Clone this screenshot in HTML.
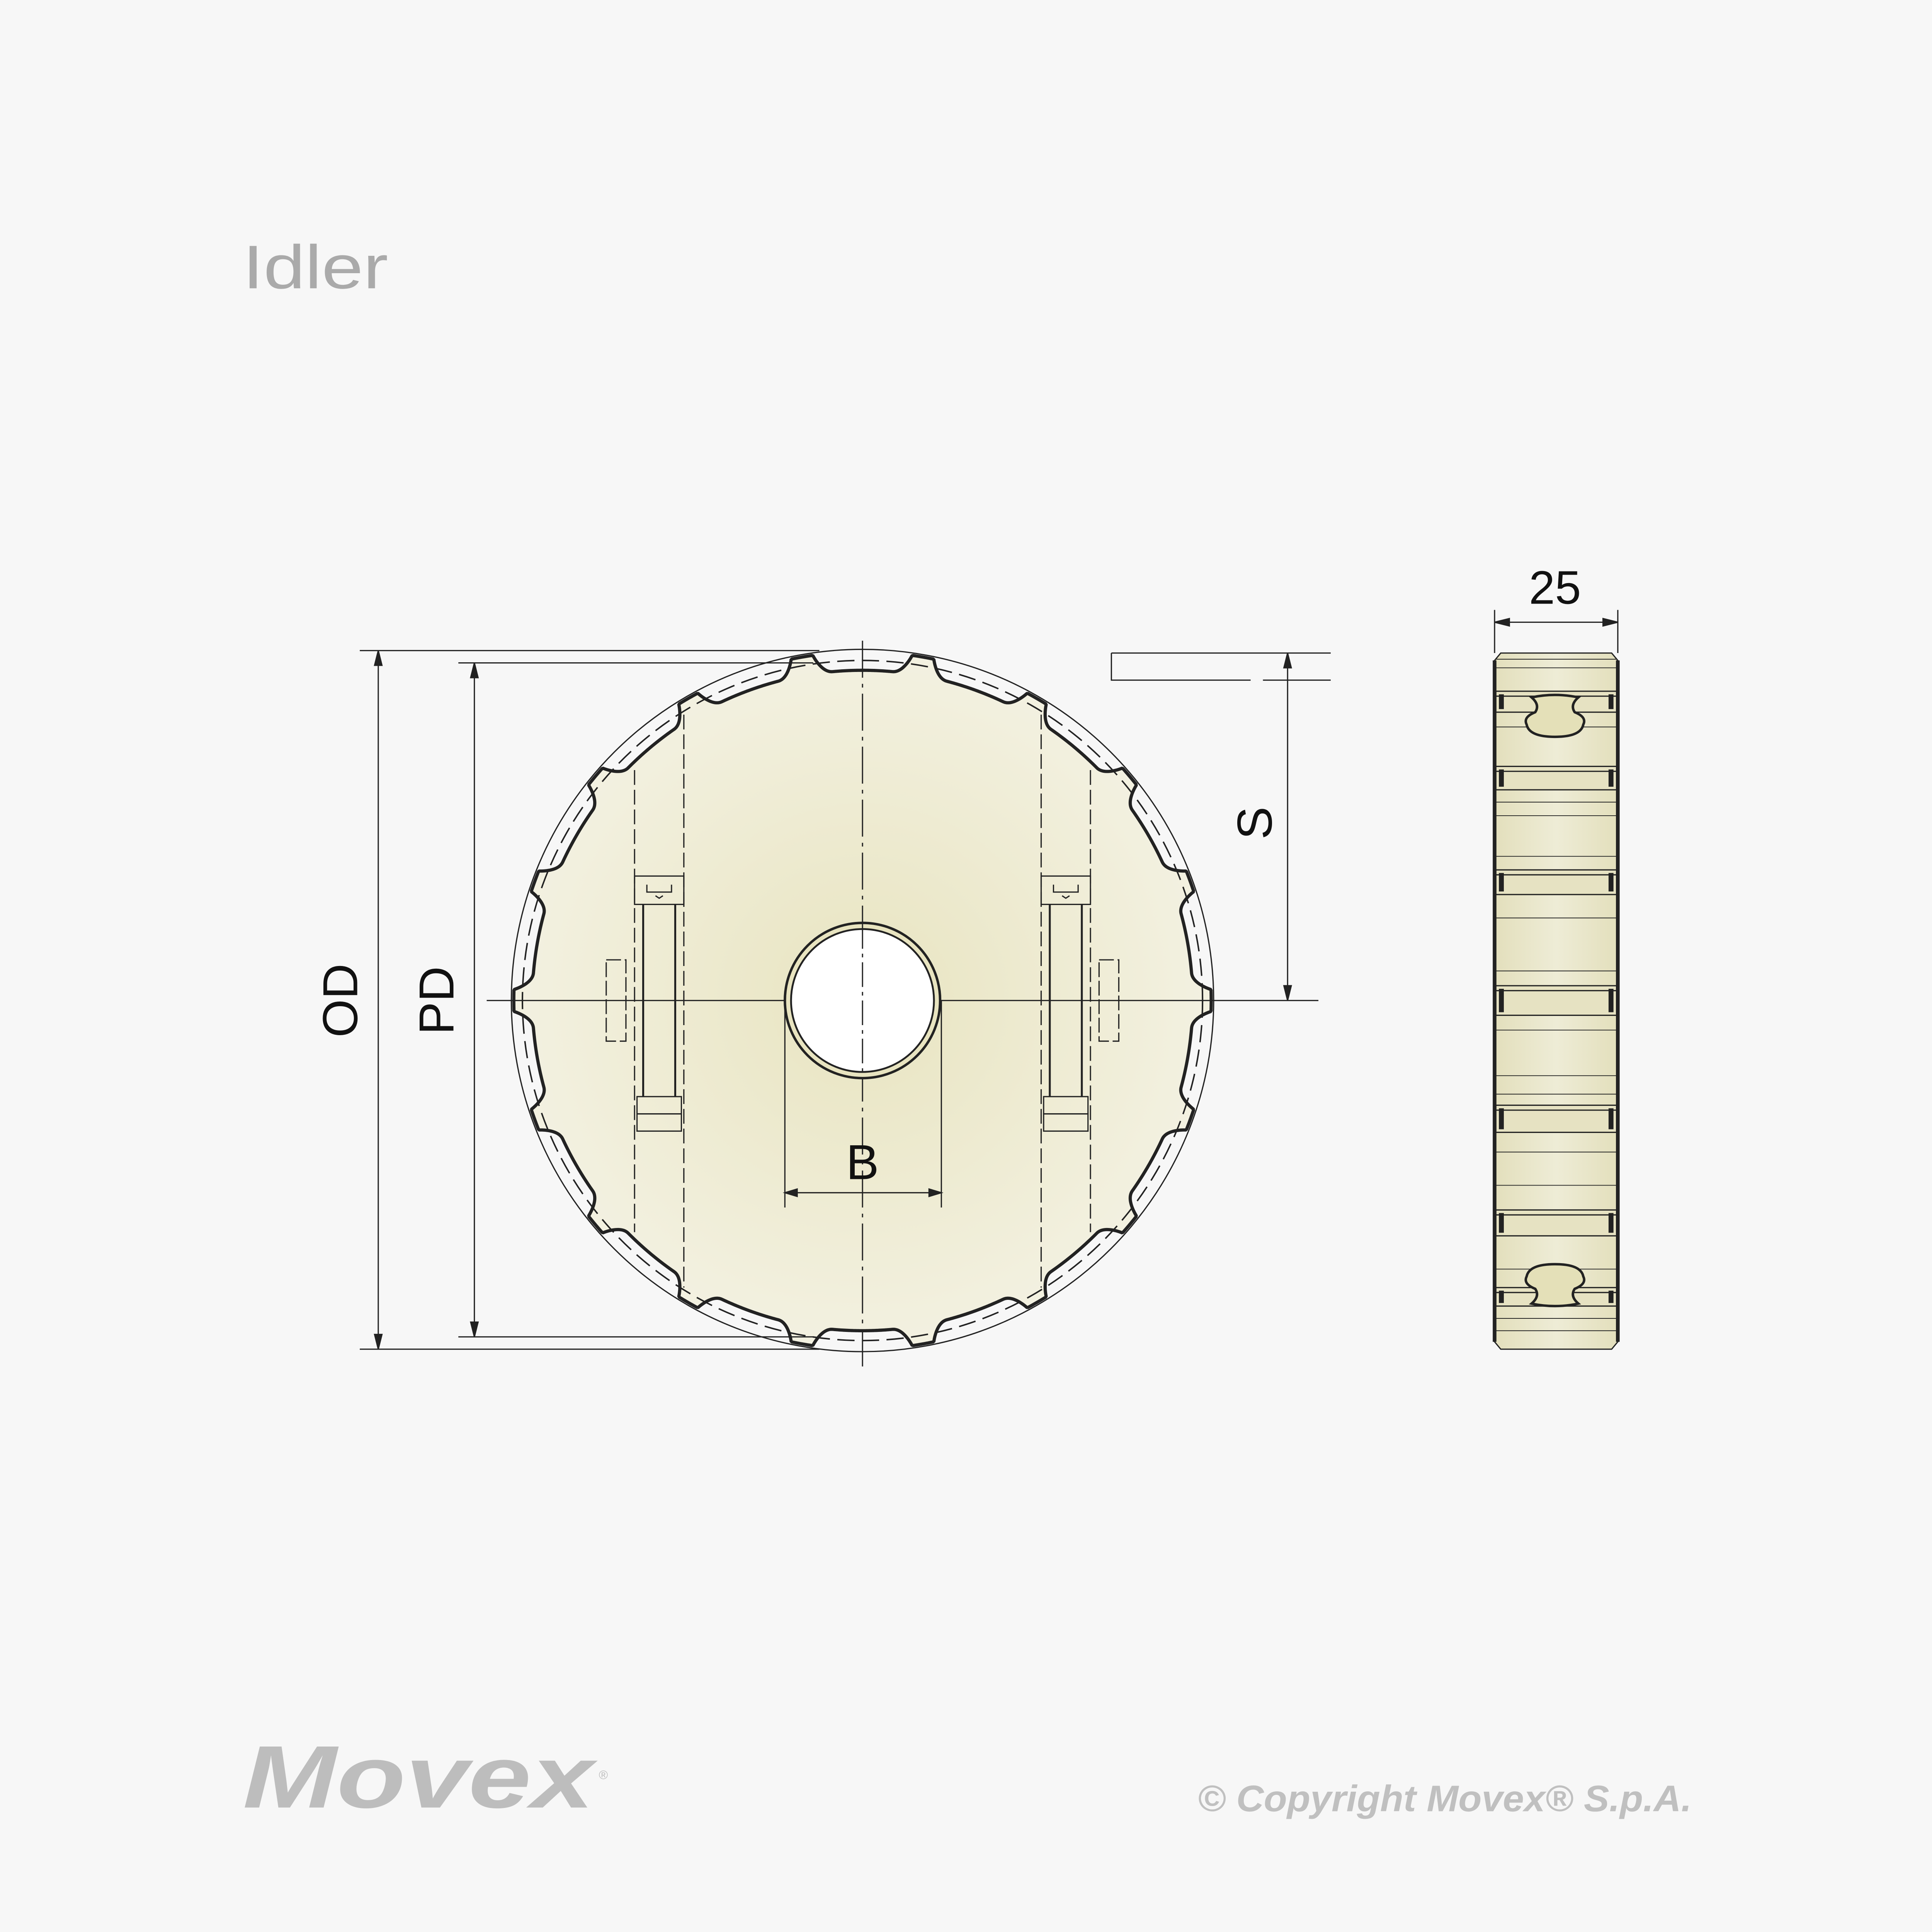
<!DOCTYPE html>
<html><head><meta charset="utf-8"><style>
html,body{margin:0;padding:0;background:#f7f7f7;overflow:hidden;width:100%;height:100%;}
svg{display:block;position:fixed;left:0;top:0;width:100vw;height:100vh;}
text{font-family:"Liberation Sans",sans-serif;}
</style></head><body>
<svg id="s" viewBox="0 0 1568 1568" preserveAspectRatio="none" xmlns="http://www.w3.org/2000/svg">
<defs>
<radialGradient id="g" cx="700" cy="812" r="283" gradientUnits="userSpaceOnUse">
<stop offset="0" stop-color="#e8e4c0"/><stop offset="1" stop-color="#f3f1e1"/></radialGradient>
<linearGradient id="sg" x1="0" y1="0" x2="1" y2="0">
<stop offset="0" stop-color="#e3dfbc"/><stop offset="0.5" stop-color="#eeecd6"/><stop offset="1" stop-color="#e3dfbc"/></linearGradient>
</defs>
<rect width="1568" height="1568" fill="#f7f7f7"/>
<text x="197" y="234" font-size="50" fill="#aaaaaa" textLength="118" lengthAdjust="spacingAndGlyphs">Idler</text>

<g id="wheel"></g>

<g stroke="#222" fill="none" stroke-width="1">
<line x1="395" y1="812" x2="1070" y2="812"/>
<line x1="700" y1="520" x2="700" y2="1110" stroke-dasharray="30,5,3,5"/>
<line x1="515" y1="625" x2="515" y2="1000" stroke-dasharray="12,4"/>
<line x1="555" y1="580" x2="555" y2="1045" stroke-dasharray="12,4"/>
<line x1="845" y1="580" x2="845" y2="1045" stroke-dasharray="12,4"/>
<line x1="885" y1="625" x2="885" y2="1000" stroke-dasharray="12,4"/>
<g id="bolts"></g>
<circle cx="700" cy="812" r="63" fill="#e8e4c0" stroke-width="2"/>
<circle cx="700" cy="812" r="58" fill="#fff" stroke-width="1.5"/>
<line x1="700" y1="750" x2="700" y2="875" stroke-dasharray="20,4,3,4"/>
<line x1="637" y1="812" x2="637" y2="980"/>
<line x1="764" y1="812" x2="764" y2="980"/>
<line x1="640" y1="968" x2="761" y2="968"/>
<path d="M637 968 l10 -3 v6z M764 968 l-10 -3 v6z" fill="#222"/>

<line x1="292" y1="528" x2="665" y2="528"/>
<line x1="292" y1="1095" x2="665" y2="1095"/>
<line x1="307" y1="531" x2="307" y2="1092"/>
<path d="M307 528 l-3 12 h6z M307 1095 l-3 -12 h6z" fill="#222"/>
<line x1="372" y1="538" x2="660" y2="538"/>
<line x1="372" y1="1085" x2="660" y2="1085"/>
<line x1="385" y1="541" x2="385" y2="1082"/>
<path d="M385 538 l-3 12 h6z M385 1085 l-3 -12 h6z" fill="#222"/>
<path d="M902 530 H1080 M902 530 V552 H1015 M1025 552 H1080"/>
<line x1="1045" y1="533" x2="1045" y2="809"/>
<path d="M1045 530 l-3 12 h6z M1045 812 l-3 -12 h6z" fill="#222"/>
<line x1="1213" y1="495" x2="1213" y2="530"/>
<line x1="1313" y1="495" x2="1313" y2="530"/>
<line x1="1216" y1="505" x2="1310" y2="505"/>
<path d="M1213 505 l12 -3 v6z M1313 505 l-12 -3 v6z" fill="#222"/>
</g>
<g font-size="40" fill="#111">
<text x="700" y="957" text-anchor="middle">B</text>
<text x="1262" y="490" text-anchor="middle" font-size="38">25</text>
<text transform="translate(290,812) rotate(-90)" text-anchor="middle">OD</text>
<text transform="translate(368,812) rotate(-90)" text-anchor="middle">PD</text>
<text transform="translate(1032,668) rotate(-90)" text-anchor="middle">S</text>
</g>

<g stroke="#222" stroke-width="1">
<path d="M1218 530 H1308 L1313 536 V1089 L1308 1095 H1218 L1213 1089 V536Z" fill="url(#sg)"/>
<g id="bands" fill="#e6e2c2"></g>
<path d="M1213 536 V1089 M1313 536 V1089" stroke-width="3" fill="none"/>
<path d="M1243 566 q19 -4 38 0 q-7 6 -3 12 q10 4 7 10 q-2 10 -23 10 q-21 0 -23 -10 q-3 -6 7 -10 q4 -6 -3 -12z" transform="translate(0,0) scale(1,1)" fill="#e4e0b8" stroke-width="2"/>
<path d="M1243 1058 q19 4 38 0 q-7 -6 -3 -12 q10 -4 7 -10 q-2 -10 -23 -10 q-21 0 -23 10 q-3 6 7 10 q4 6 -3 12z" fill="#e4e0b8" stroke-width="2"/>
</g>

<text x="197" y="1467" font-family="Liberation Serif,serif" font-weight="bold" font-style="italic" font-size="72" fill="#bdbdbd" textLength="285" lengthAdjust="spacingAndGlyphs">Movex</text>
<text x="486" y="1444" font-size="10" fill="#bdbdbd">®</text>
<text x="972" y="1470" font-weight="bold" font-style="italic" font-size="30" fill="#c0c0c0" textLength="401" lengthAdjust="spacingAndGlyphs">© Copyright Movex® S.p.A.</text>
</svg>
<script>
var NS="http://www.w3.org/2000/svg",cx=700,cy=812;
function el(p,t,a){var e=document.createElementNS(NS,t);for(var k in a)e.setAttribute(k,a[k]);p.appendChild(e);return e;}
var w=document.getElementById("wheel"),pts=[];
for(var i=0;i<=2160;i++){var a=i/2160*360,th=a*Math.PI/180;
var m=(((a-10)%20)+20)%20,d=Math.min(m,20-m),r;
if(d<1.8)r=283;else if(d<4.8){var t=(d-1.8)/3;t=Math.sqrt(t);r=283-15*(t*t*(3-2*t));}else r=268;
pts.push((cx+r*Math.sin(th)).toFixed(2)+","+(cy-r*Math.cos(th)).toFixed(2));}
el(w,"polygon",{points:pts.join(" "),fill:"url(#g)",stroke:"#222","stroke-width":"2.6"});
el(w,"circle",{cx:cx,cy:cy,r:285,fill:"none",stroke:"#222","stroke-width":"1"});
el(w,"circle",{cx:cx,cy:cy,r:276,fill:"none",stroke:"#222","stroke-width":"1.2","stroke-dasharray":"14,6"});
var b=document.getElementById("bolts");
[535,865].forEach(function(x){
el(b,"rect",{x:x-20,y:711,width:40,height:23});
el(b,"path",{d:"M"+(x-10)+" 718 v6 h20 v-6 M"+(x-3)+" 727 l3 2 l3 -2"});
el(b,"line",{x1:x-13,y1:734,x2:x-13,y2:890,"stroke-width":"1.6"});
el(b,"line",{x1:x+13,y1:734,x2:x+13,y2:890,"stroke-width":"1.6"});
el(b,"rect",{x:x-18,y:890,width:36,height:14});
el(b,"rect",{x:x-18,y:904,width:36,height:14});
var rx=x<700?492:892;
el(b,"rect",{x:rx,y:779,width:16,height:66,"stroke-dasharray":"12,3"});
});
var bd=document.getElementById("bands");
[[561,578],[622,641],[706,726],[800,824],[897,919],[982,1003],[1045,1060]].forEach(function(p){
el(bd,"rect",{x:1214,y:p[0],width:98,height:p[1]-p[0]});
el(bd,"line",{x1:1214,y1:p[0]+4,x2:1312,y2:p[0]+4});
el(bd,"rect",{x:1217,y:p[0]+3,width:3,height:p[1]-p[0]-6,fill:"#222"});
el(bd,"rect",{x:1306,y:p[0]+3,width:3,height:p[1]-p[0]-6,fill:"#222"});
});
[535,542,590,651,662,695,745,788,836,873,888,935,962,1030,1070,1080].forEach(function(y){
el(bd,"line",{x1:1214,y1:y,x2:1312,y2:y,"stroke-width":"0.6"});});
</script>
</body></html>
